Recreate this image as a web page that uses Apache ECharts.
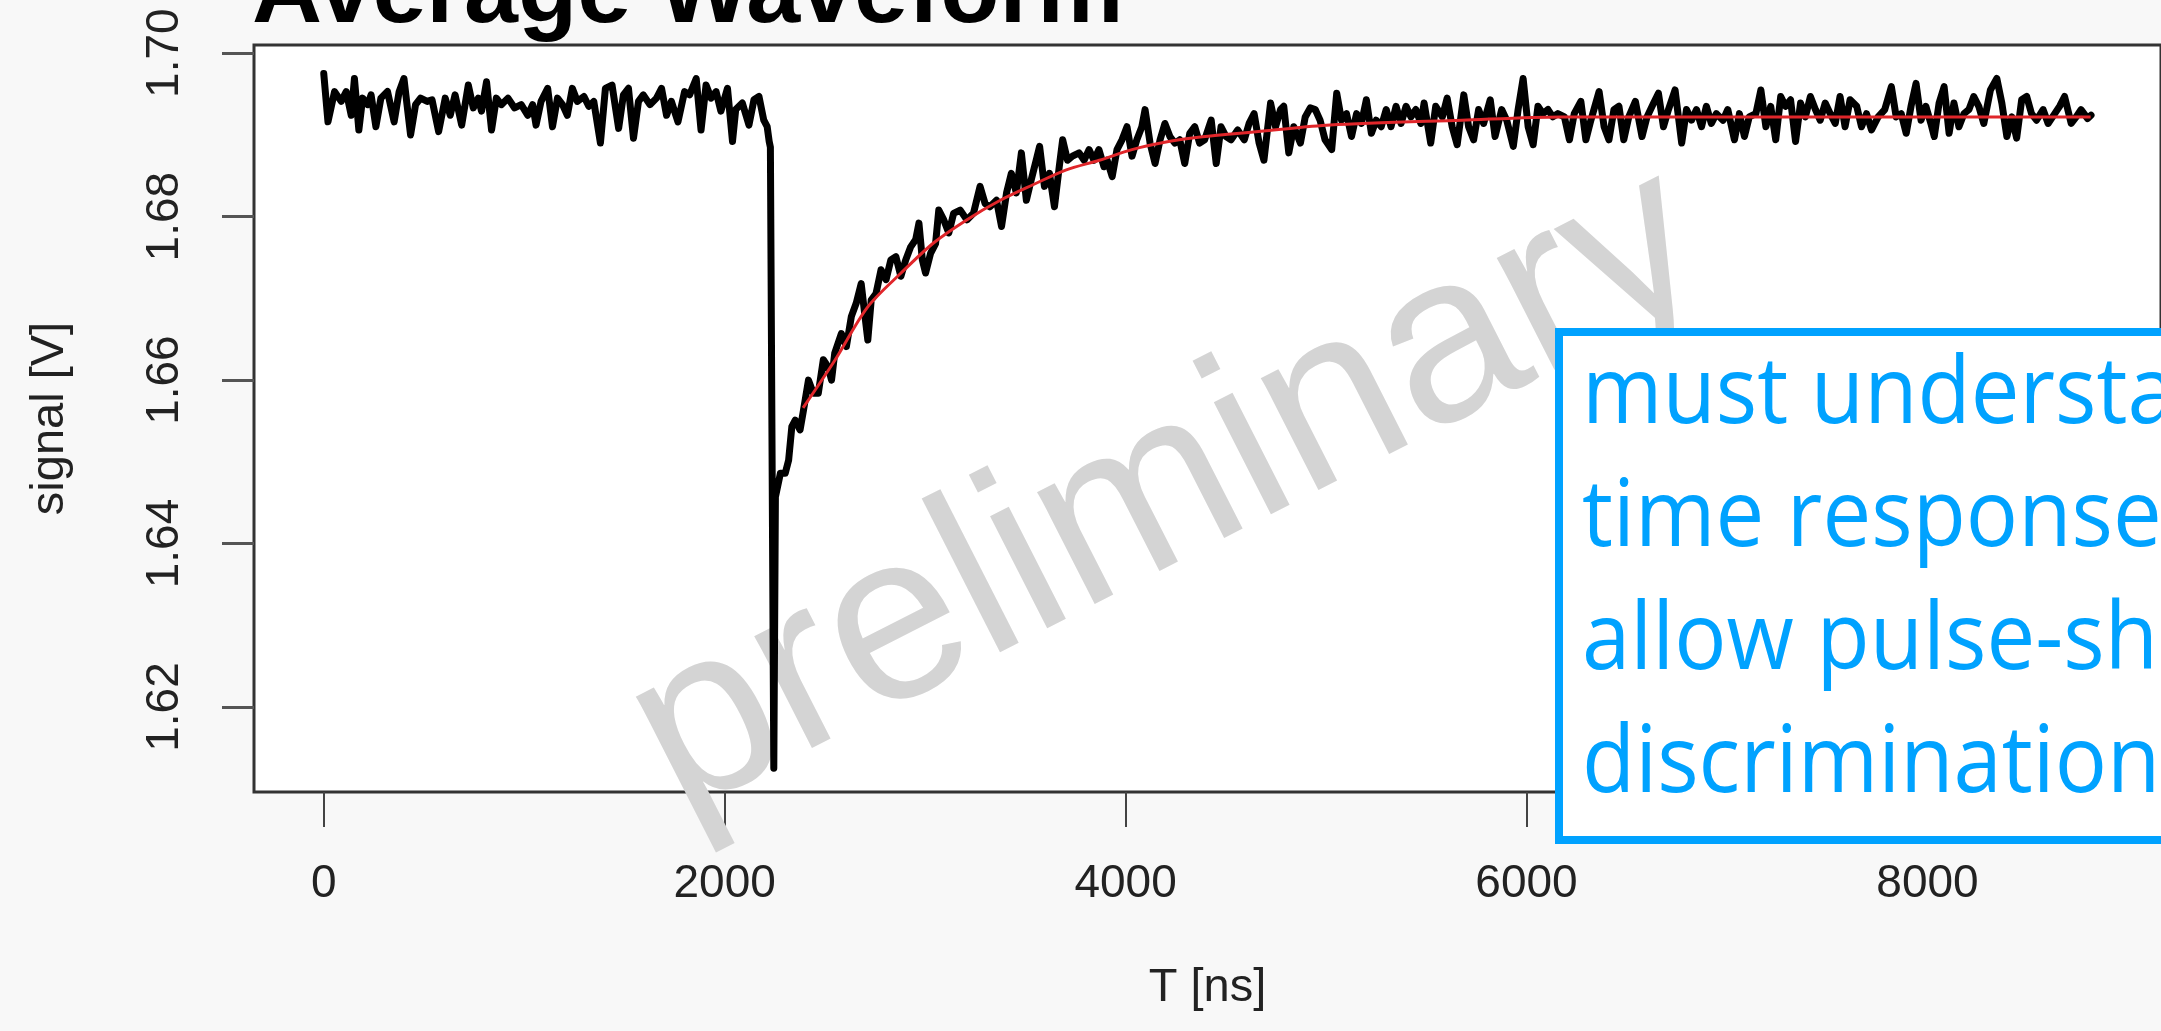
<!DOCTYPE html>
<html>
<head>
<meta charset="utf-8">
<title>Average Waveform</title>
<script src="https://cdn.jsdelivr.net/npm/echarts@6.0.0/dist/echarts.min.js"></script>
<style>
  html, body { margin: 0; padding: 0; background: #f8f8f8; }
  #chart { width: 2161px; height: 1031px; }
</style>
</head>
<body>
<div id="chart"></div>
<script>
// axis ticks
const xTicks = [0, 2000, 4000, 6000, 8000]
const yTicks = [1.62, 1.64, 1.66, 1.68, 1.70]

// averaged waveform, [T ns, signal V]
const preTrigger = [
  [0, 1.6975], [21, 1.6916], [54, 1.6953], [87, 1.6941], [112, 1.6953], [137, 1.6924], [153, 1.6969],
  [175, 1.6906], [194, 1.6945], [219, 1.6937], [236, 1.6949], [260, 1.6910], [285, 1.6945], [318, 1.6953],
  [351, 1.6916], [376, 1.6953], [400, 1.6969], [433, 1.6900], [458, 1.6937], [483, 1.6945], [516, 1.6941],
  [540, 1.6943], [573, 1.6904], [606, 1.6945], [631, 1.6924], [655, 1.6949], [688, 1.6912], [721, 1.6961],
  [746, 1.6933], [771, 1.6945], [787, 1.6929], [812, 1.6965], [837, 1.6906], [861, 1.6945], [886, 1.6937],
  [919, 1.6945], [952, 1.6933], [985, 1.6937], [1018, 1.6924], [1042, 1.6937], [1059, 1.6912], [1084, 1.6941],
  [1117, 1.6957], [1141, 1.6910], [1166, 1.6945], [1191, 1.6937], [1215, 1.6924], [1240, 1.6957], [1265, 1.6941],
  [1298, 1.6947], [1322, 1.6935], [1347, 1.6941], [1380, 1.6890], [1405, 1.6957], [1438, 1.6961], [1471, 1.6908],
  [1495, 1.6949], [1520, 1.6957], [1545, 1.6896], [1570, 1.6941], [1594, 1.6949], [1627, 1.6937], [1660, 1.6945],
  [1685, 1.6957], [1710, 1.6924], [1734, 1.6941], [1767, 1.6916], [1800, 1.6953], [1825, 1.6949], [1858, 1.6969],
  [1882, 1.6906], [1907, 1.6961], [1932, 1.6945], [1957, 1.6953], [1981, 1.6929], [2014, 1.6957], [2039, 1.6892],
  [2055, 1.6931], [2088, 1.6939], [2121, 1.6912], [2146, 1.6943], [2171, 1.6947], [2195, 1.6918], [2212, 1.6910],
  [2222, 1.6892]
]

const pulse = [
  [2228, 1.6885], [2245, 1.6125], [2253, 1.6457], [2278, 1.6486], [2302, 1.6486]
]

const recovery = [
  [2319, 1.6502], [2335, 1.6543], [2352, 1.6551], [2376, 1.6539], [2393, 1.6563], [2418, 1.6600], [2442, 1.6584],
  [2467, 1.6584], [2492, 1.6625], [2516, 1.6616], [2533, 1.6600], [2549, 1.6633], [2582, 1.6657], [2607, 1.6641],
  [2632, 1.6678], [2656, 1.6694], [2681, 1.6718], [2698, 1.6682], [2714, 1.6649], [2731, 1.6698], [2755, 1.6706],
  [2780, 1.6735], [2805, 1.6723], [2829, 1.6747], [2854, 1.6751], [2879, 1.6727], [2903, 1.6747], [2928, 1.6763],
  [2953, 1.6772], [2969, 1.6792], [2986, 1.6747], [3002, 1.6731], [3027, 1.6755], [3052, 1.6767], [3068, 1.6808],
  [3093, 1.6796], [3118, 1.6780], [3142, 1.6804], [3175, 1.6808], [3208, 1.6796], [3241, 1.6804], [3274, 1.6837],
  [3299, 1.6816], [3323, 1.6812], [3356, 1.6820], [3381, 1.6788], [3406, 1.6829], [3430, 1.6853], [3455, 1.6829],
  [3480, 1.6878], [3505, 1.6820], [3529, 1.6845], [3554, 1.6869], [3571, 1.6886], [3595, 1.6837], [3620, 1.6853],
  [3645, 1.6812], [3669, 1.6861], [3686, 1.6894], [3710, 1.6869], [3735, 1.6874], [3768, 1.6878], [3793, 1.6869],
  [3818, 1.6882], [3842, 1.6869], [3867, 1.6882], [3892, 1.6861], [3908, 1.6869], [3933, 1.6849], [3957, 1.6882],
  [3982, 1.6894], [4007, 1.6910], [4032, 1.6874], [4056, 1.6894], [4081, 1.6910], [4097, 1.6931], [4122, 1.6890],
  [4147, 1.6865], [4172, 1.6894], [4196, 1.6914], [4221, 1.6898], [4246, 1.6890], [4270, 1.6894], [4295, 1.6865],
  [4320, 1.6902], [4345, 1.6910], [4369, 1.6890], [4394, 1.6894], [4427, 1.6918], [4452, 1.6865], [4476, 1.6910],
  [4501, 1.6898], [4526, 1.6894]
]

const tail = [
  [4559, 1.6906], [4592, 1.6894], [4616, 1.6914], [4641, 1.6926], [4666, 1.6890], [4690, 1.6869], [4723, 1.6939],
  [4748, 1.6910], [4773, 1.6931], [4789, 1.6935], [4814, 1.6878], [4839, 1.6910], [4872, 1.6890], [4896, 1.6922],
  [4921, 1.6933], [4946, 1.6931], [4970, 1.6918], [4995, 1.6894], [5028, 1.6882], [5053, 1.6951], [5077, 1.6918],
  [5102, 1.6926], [5127, 1.6898], [5152, 1.6926], [5176, 1.6914], [5201, 1.6943], [5226, 1.6902], [5250, 1.6918],
  [5275, 1.6910], [5300, 1.6931], [5324, 1.6910], [5349, 1.6935], [5374, 1.6914], [5399, 1.6935], [5423, 1.6922],
  [5448, 1.6931], [5473, 1.6914], [5489, 1.6939], [5522, 1.6890], [5547, 1.6935], [5580, 1.6922], [5604, 1.6945],
  [5629, 1.6910], [5654, 1.6888], [5687, 1.6949], [5711, 1.6910], [5736, 1.6894], [5761, 1.6931], [5786, 1.6914],
  [5819, 1.6943], [5843, 1.6898], [5876, 1.6931], [5901, 1.6918], [5934, 1.6886], [5958, 1.6931], [5983, 1.6969],
  [6008, 1.6910], [6033, 1.6888], [6057, 1.6935], [6082, 1.6926], [6107, 1.6931], [6131, 1.6922], [6156, 1.6926],
  [6189, 1.6922], [6214, 1.6894], [6238, 1.6926], [6271, 1.6941], [6296, 1.6894], [6321, 1.6918], [6362, 1.6953],
  [6387, 1.6910], [6411, 1.6894], [6436, 1.6931], [6461, 1.6935], [6485, 1.6894], [6510, 1.6922], [6543, 1.6941],
  [6576, 1.6898], [6601, 1.6922], [6634, 1.6939], [6658, 1.6951], [6683, 1.6910], [6708, 1.6931], [6741, 1.6955],
  [6774, 1.6890], [6798, 1.6931], [6823, 1.6918], [6848, 1.6931], [6873, 1.6910], [6897, 1.6935], [6922, 1.6914],
  [6947, 1.6926], [6980, 1.6918], [7004, 1.6931], [7037, 1.6894], [7062, 1.6926], [7087, 1.6898], [7111, 1.6922],
  [7144, 1.6926], [7169, 1.6955], [7194, 1.6910], [7218, 1.6935], [7243, 1.6894], [7268, 1.6947], [7292, 1.6935],
  [7317, 1.6943], [7342, 1.6892], [7367, 1.6939], [7391, 1.6922], [7416, 1.6947], [7441, 1.6931], [7465, 1.6918],
  [7490, 1.6939], [7515, 1.6926], [7540, 1.6914], [7564, 1.6947], [7589, 1.6910], [7614, 1.6943], [7647, 1.6935],
  [7671, 1.6910], [7696, 1.6926], [7721, 1.6906], [7754, 1.6922], [7787, 1.6931], [7820, 1.6959], [7844, 1.6922],
  [7869, 1.6926], [7894, 1.6902], [7918, 1.6935], [7943, 1.6963], [7968, 1.6918], [7992, 1.6935], [8017, 1.6914],
  [8034, 1.6898], [8058, 1.6939], [8083, 1.6959], [8108, 1.6902], [8132, 1.6939], [8157, 1.6910], [8182, 1.6926],
  [8207, 1.6931], [8231, 1.6947], [8256, 1.6935], [8281, 1.6914], [8314, 1.6955], [8346, 1.6969], [8371, 1.6939],
  [8396, 1.6898], [8421, 1.6922], [8445, 1.6896], [8470, 1.6943], [8495, 1.6947], [8519, 1.6926], [8544, 1.6918],
  [8577, 1.6931], [8602, 1.6914], [8635, 1.6926], [8659, 1.6935], [8684, 1.6947], [8717, 1.6914], [8742, 1.6922],
  [8766, 1.6931], [8799, 1.6920], [8816, 1.6924]
]

// exponential recovery fit (red)
const fitCurve = [
  [2391, 1.6566], [2549, 1.6624], [2712, 1.6689], [2880, 1.6731], [3043, 1.6768], [3207, 1.6796], [3375, 1.6820],
  [3538, 1.6839], [3701, 1.6857], [3869, 1.6869], [4032, 1.6882], [4195, 1.6891], [4363, 1.6897], [4526, 1.6901],
  [4700, 1.6905], [5020, 1.6912], [5677, 1.6918], [6171, 1.6922], [6798, 1.6922], [8814, 1.6922]
]

const noteLines = ['must understand', 'time response to', 'allow pulse-shape', 'discrimination']

const waveform = [...preTrigger, ...pulse, ...recovery, ...tail]

const BLUE = '#00a2ff'
const FONT = '"Liberation Sans", Arial, Helvetica, sans-serif'

const chart = echarts.init(document.getElementById('chart'))

const option = {
  backgroundColor: '#f8f8f8',
  animation: false,
  grid: {
    left: 254,
    top: 45,
    width: 1925,
    height: 747,
    show: true,
    backgroundColor: '#ffffff',
    borderColor: '#333333',
    borderWidth: 3,
  },
  xAxis: {
    type: 'value',
    min: -348,
    max: 9165,
    name: 'T [ns]',
    nameLocation: 'middle',
    nameGap: 173,
    nameTextStyle: { fontFamily: FONT, fontSize: 47, color: '#222' },
    axisLine: { show: false, onZero: false },
    splitLine: { show: false },
    axisTick: {
      show: true,
      length: 35,
      customValues: xTicks,
      lineStyle: { color: '#444', width: 2 },
    },
    axisLabel: {
      customValues: xTicks,
      margin: 69,
      fontFamily: FONT,
      fontSize: 46,
      color: '#222',
      formatter: (v) => String(v),
    },
  },
  yAxis: {
    type: 'value',
    min: 1.6096,
    max: 1.701,
    name: 'signal [V]',
    nameLocation: 'middle',
    nameRotate: 90,
    nameGap: 180,
    nameTextStyle: { fontFamily: FONT, fontSize: 47, color: '#222' },
    axisLine: { show: false, onZero: false },
    splitLine: { show: false },
    axisTick: {
      show: true,
      length: 32,
      customValues: yTicks,
      lineStyle: { color: '#555', width: 3 },
    },
    axisLabel: {
      customValues: yTicks,
      rotate: 90,
      margin: 66,
      fontFamily: FONT,
      fontSize: 46,
      color: '#222',
      formatter: (v) => v.toFixed(2),
    },
  },
  series: [
    {
      name: 'average',
      type: 'line',
      data: waveform,
      showSymbol: false,
      lineStyle: { color: '#000', width: 7, join: 'round', cap: 'round' },
      z: 3,
    },
    {
      name: 'fit',
      type: 'line',
      data: fitCurve,
      showSymbol: false,
      smooth: 0.3,
      lineStyle: { color: '#e0262a', width: 3 },
      z: 4,
    },
  ],
  graphic: [
    // title, cut off at the top of the picture
    {
      type: 'text',
      x: 252,
      y: -5,
      z: 5,
      style: {
        text: 'Average Waveform',
        fontFamily: FONT,
        fontWeight: 'bold',
        fontSize: 97,
        fill: '#000',
        verticalAlign: 'middle',
      },
    },
    // watermark
    {
      type: 'text',
      x: 1168,
      y: 493,
      rotation: 27 * Math.PI / 180,
      z: 1,
      style: {
        text: 'preliminary',
        fontFamily: FONT,
        fontSize: 238,
        fill: '#d4d4d4',
        align: 'center',
        verticalAlign: 'middle',
      },
    },
    // blue note box
    {
      type: 'rect',
      z: 100,
      shape: { x: 1559, y: 332, width: 700, height: 508 },
      style: { fill: '#ffffff', stroke: BLUE, lineWidth: 8 },
    },
    {
      type: 'text',
      x: 1582,
      y: 335,
      scaleX: 0.935,
      z: 101,
      style: {
        text: noteLines.join('\n'),
        fontFamily: '"Open Sans", sans-serif',
        fontSize: 93,
        lineHeight: 123,
        fill: BLUE,
        verticalAlign: 'top',
      },
    },
  ],
}

chart.setOption(option)
</script>
</body>
</html>
